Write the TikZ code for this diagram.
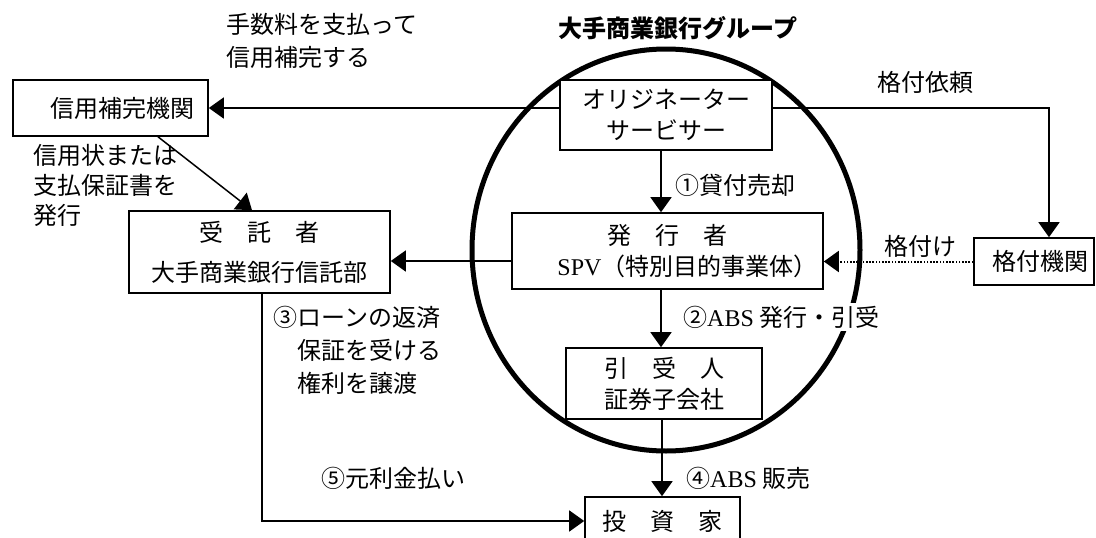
\documentclass[tikz,border=0pt]{standalone}
\usepackage{fontspec}
\setmainfont{Noto Sans CJK JP}
\newfontfamily\lat{Liberation Serif}
\usetikzlibrary{arrows.meta}
\begin{document}
\begin{tikzpicture}[x=1pt,y=-1pt,
  box/.style={draw, line width=1.6pt, fill=white, inner sep=0pt, align=center, font=\fontsize{24}{31}\selectfont},
  lbl/.style={inner sep=0pt, align=left, font=\fontsize{24}{33}\selectfont},
  conn/.style={line width=1.5pt, -{Triangle[length=15pt,width=21pt]}},
  ring/.style={line width=5pt},
]
\useasboundingbox (0,0) rectangle (1096,538);
\clip (0,0) rectangle (1096,538);
\draw[ring] (666,250) ellipse [x radius=194pt, y radius=201pt];

% boxes
\node[box, minimum width=195pt, minimum height=56pt] (cred) at (110.5,108) {\hspace*{24pt}信用補完機関};
\node[box, minimum width=212pt, minimum height=70pt] (orig) at (666,115) {オリジネーター\\サービサー};
\node[box, minimum width=311pt, minimum height=76pt] (spv) at (667.5,251) {発　行　者\\\hspace*{40pt}{\lat SPV}（特別目的事業体）};
\node[box, minimum width=261pt, minimum height=82pt] (trustee) at (259.5,252) {受　託　者\\[9pt]大手商業銀行信託部};
\node[box, minimum width=196pt, minimum height=71pt] (uw) at (664,383.5) {引　受　人\\証券子会社};
\node[box, minimum width=155pt, minimum height=48pt] (inv) at (662.5,521) {投　資　家};
\node[box, minimum width=120pt, minimum height=47pt] (rate) at (1034,261.5) {\hspace*{12pt}格付機関};

% labels
\node[lbl, anchor=west] (fee) at (226,41) {手数料を支払って\\信用補完する};
\node[inner sep=0pt, font=\bfseries\fontsize{24}{28}\selectfont] (grp) at (678,28) {大手商業銀行グループ};
\node[lbl] (req) at (925,82) {格付依頼};
\node[lbl, anchor=west, font=\fontsize{24}{30}\selectfont] (lc) at (33,185) {信用状または\\支払保証書を\\発行};
\node[lbl, anchor=west] (s1) at (675,185) {①貸付売却};
\node[lbl, anchor=west, fill=white, inner sep=3pt] (s2) at (680,317) {②{\lat ABS} 発行・引受};
\node[lbl, anchor=west] (s3) at (273,350) {③ローンの返済\\　保証を受ける\\　権利を譲渡};
\node[lbl, anchor=west] (s4) at (686,478) {④{\lat ABS} 販売};
\node[lbl, anchor=west] (s5) at (321,478) {⑤元利金払い};
\node[lbl] (rt) at (920,246) {格付け};

% connectors
\draw[conn] (orig.west |- cred.east) -- (cred.east);
\draw[conn] (orig.east |- cred.east) -| ([xshift=15pt]rate.north);
\draw[conn] ([xshift=-5pt]orig.south) -- ([xshift=-5pt]orig.south |- spv.north);
\draw[conn] ([yshift=-10pt]spv.west) -- ([yshift=-10pt]spv.west -| trustee.east);
\draw[conn, line width=2pt, dash pattern=on 1.6pt off 1.6pt] (rate.west) -- (rate.west -| spv.east);
\draw[conn] ([xshift=47.5pt]cred.south) -- ([xshift=-7.5pt]trustee.north);
\draw[conn] ([xshift=-6.5pt]spv.south) -- ([xshift=-6.5pt]spv.south |- uw.north);
\draw[conn] ([xshift=-2pt]uw.south) -- ([xshift=-2pt]uw.south |- inv.north);
\draw[conn] ([xshift=2.5pt]trustee.south) |- (inv.west);
\end{tikzpicture}
\end{document}
